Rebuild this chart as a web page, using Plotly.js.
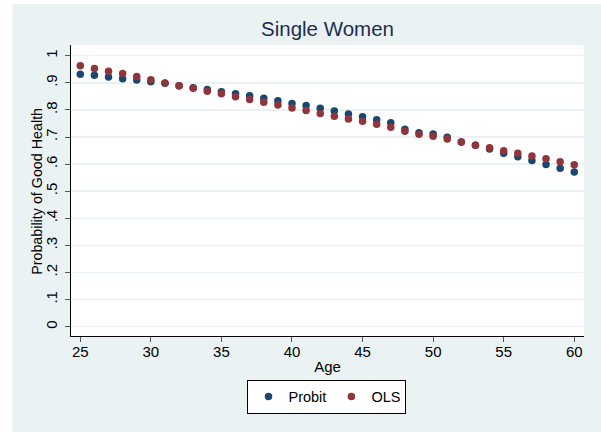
<!DOCTYPE html>
<html>
<head>
<meta charset="utf-8">
<script src="https://cdn.plot.ly/plotly-3.0.1.min.js"></script>
<style>
  html, body { margin: 0; padding: 0; background: #ffffff; }
  #chart { width: 601px; height: 432px; }
</style>
</head>
<body>
<div id="chart"></div>
<script>
// Data
const ages = [25,26,27,28,29,30,31,32,33,34,35,36,37,38,39,40,41,42,43,44,45,46,47,48,49,50,51,52,53,54,55,56,57,58,59,60];
const probit = [0.932,0.928,0.921,0.915,0.910,0.904,0.898,0.889,0.882,0.875,0.867,0.860,0.852,0.843,0.834,0.824,0.816,0.806,0.796,0.785,0.775,0.764,0.753,0.729,0.716,0.711,0.699,0.682,0.670,0.656,0.640,0.627,0.613,0.599,0.585,0.571];
const ols = [0.963,0.953,0.943,0.934,0.923,0.911,0.899,0.889,0.880,0.869,0.860,0.849,0.838,0.828,0.818,0.807,0.798,0.787,0.777,0.766,0.758,0.747,0.736,0.721,0.710,0.703,0.693,0.682,0.670,0.660,0.649,0.640,0.630,0.620,0.609,0.598];
const yTickVals = [0,0.1,0.2,0.3,0.4,0.5,0.6,0.7,0.8,0.9,1];
const yTickText = ["0",".1",".2",".3",".4",".5",".6",".7",".8",".9","1"];
const xTickVals = [25,30,35,40,45,50,55,60];
const yTitle = "Probability of Good Health";

const FONT = "Liberation Sans, Arial, sans-serif";
const BG = "#eaf2f3";

const traces = [
  { x: ages, y: probit, name: "Probit", type: "scatter", mode: "markers",
    marker: { color: "#1a476f", size: 7.5 } },
  { x: ages, y: ols, name: "OLS", type: "scatter", mode: "markers",
    marker: { color: "#90353b", size: 7.5 } }
];

const layout = {
  width: 601, height: 432,
  margin: { l: 70.7, r: 16.7, t: 45, b: 96, pad: 0 },
  paper_bgcolor: BG,
  plot_bgcolor: "#ffffff",
  font: { family: FONT, size: 15, color: "#000000" },
  showlegend: true,
  title: { text: "Single Women", font: { family: FONT, size: 20.5, color: "#1e2d50" },
           x: 0.5, xref: "paper", xanchor: "center", y: 1 - 29/432, yref: "container", yanchor: "middle" },
  xaxis: {
    range: [24.342, 60.69], tickmode: "array", tickvals: xTickVals,
    showgrid: false, zeroline: false,
    showline: true, linecolor: "#000000", linewidth: 1.2,
    ticks: "outside", ticklen: 5, tickwidth: 1, tickcolor: "#555555",
    ticklabelstandoff: -3,
    tickfont: { family: FONT, size: 15, color: "#000000" },
    title: { text: "Age", font: { family: FONT, size: 15, color: "#000000" }, standoff: 2 }
  },
  yaxis: {
    range: [-0.0343, 1.0395], tickmode: "array", tickvals: yTickVals, ticktext: yTickText,
    tickangle: -90, ticklabelstandoff: 2,
    showgrid: true, gridcolor: BG, gridwidth: 1.5, zeroline: false,
    showline: true, linecolor: "#000000", linewidth: 1.2,
    ticks: "outside", ticklen: 5, tickwidth: 1, tickcolor: "#555555",
    tickfont: { family: FONT, size: 15, color: "#000000" }
  },
  annotations: [
    { text: yTitle, xref: "paper", yref: "paper", x: (36.5 - 70.7)/513.6, y: (336 - 191)/291,
      xanchor: "center", yanchor: "middle", textangle: -90, showarrow: false,
      font: { family: FONT, size: 14.3, color: "#000000" } }
  ],
  legend: {
    orientation: "h", x: 0.499, xanchor: "center", y: -0.15, yanchor: "top",
    bgcolor: "#ffffff", bordercolor: "#000000", borderwidth: 1,
    font: { family: FONT, size: 14.5, color: "#000000" },
    tracegroupgap: 0, itemwidth: 30
  },
  shapes: [
    { type: "rect", xref: "paper", yref: "paper", x0: -0.2, x1: (12 - 70.7)/513.6, y0: -0.5, y1: 1.2,
      fillcolor: "#ffffff", line: { width: 0 }, layer: "below" },
    { type: "rect", xref: "paper", yref: "paper", x0: -0.2, x1: 1.2, y0: (336 - 4)/291, y1: 1.2,
      fillcolor: "#ffffff", line: { width: 0 }, layer: "below" }
  ]
};

Plotly.newPlot("chart", traces, layout, { displayModeBar: false, staticPlot: true });
</script>
</body>
</html>
